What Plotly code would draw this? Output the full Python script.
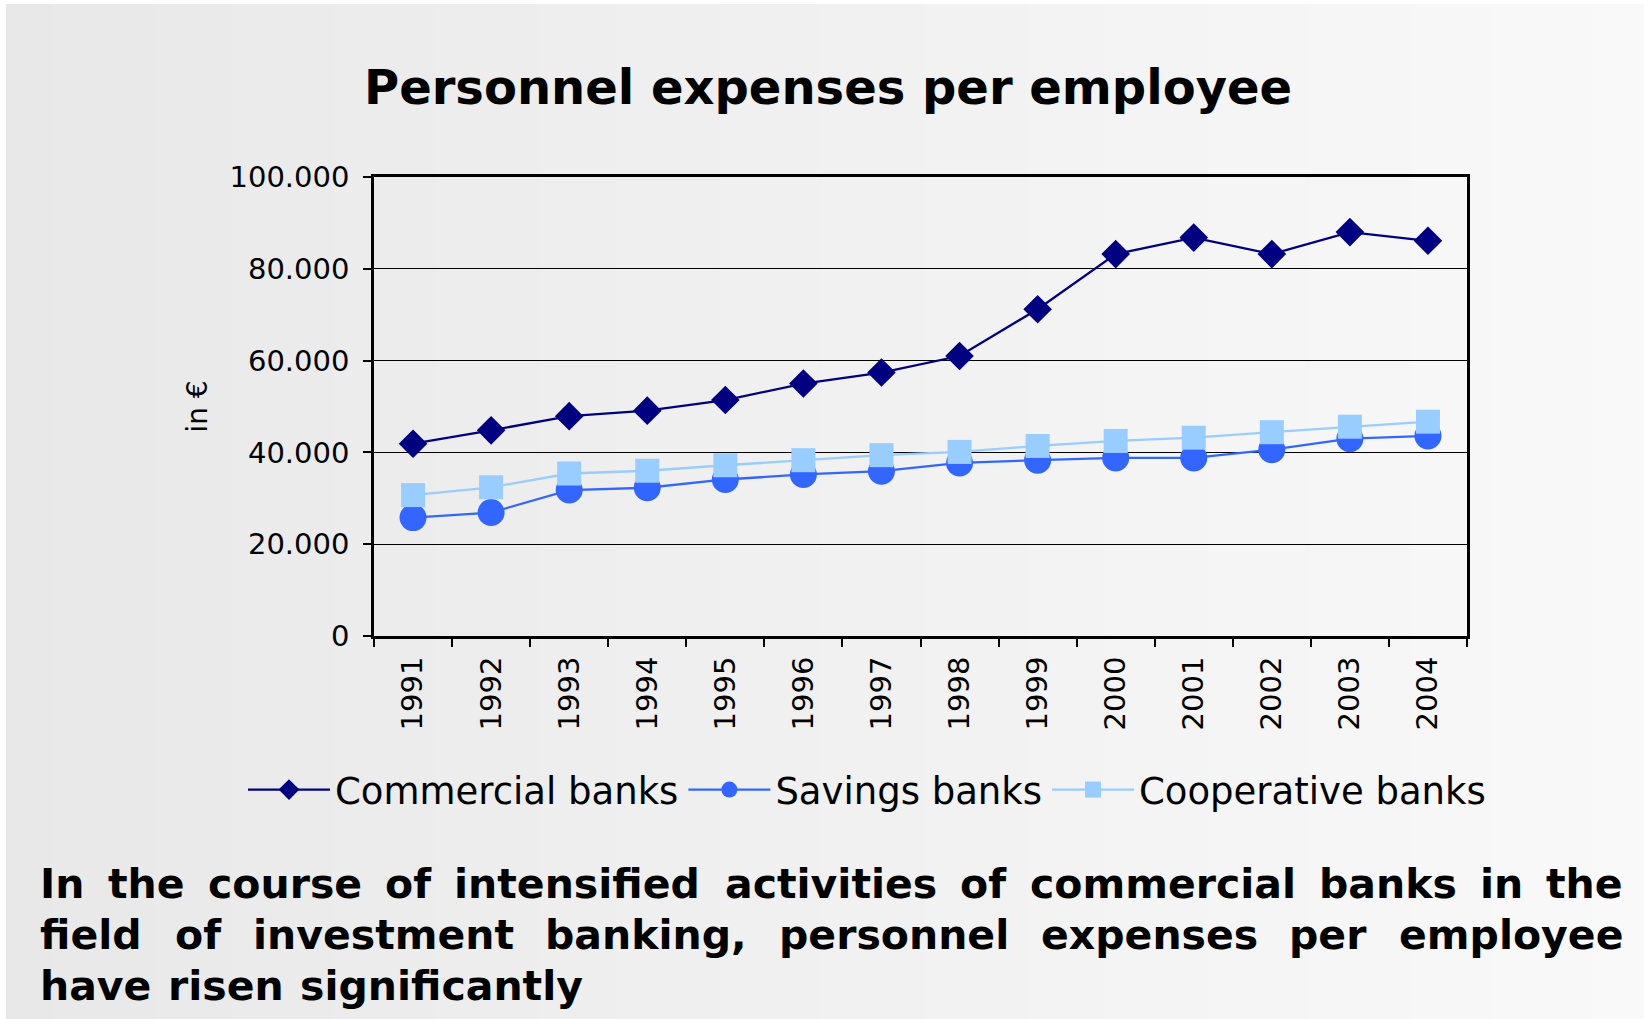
import glob
import os
import struct

import plotly.graph_objects as go

# ---- data -------------------------------------------------------------
years = ["1991", "1992", "1993", "1994", "1995", "1996", "1997",
         "1998", "1999", "2000", "2001", "2002", "2003", "2004"]
commercial = [41900, 44800, 47900, 49100, 51400, 55000, 57400,
              61000, 71200, 83200, 86800, 83200, 88000, 86100]
savings = [25800, 26900, 31800, 32300, 34100, 35200, 35900,
           37700, 38300, 38800, 38800, 40600, 43000, 43600]
cooperative = [30700, 32400, 35400, 36000, 37200, 38300, 39400,
               40100, 41400, 42500, 43200, 44400, 45600, 46700]

series_names = ["Commercial banks", "Savings banks", "Cooperative banks"]
title_text = "Personnel expenses per employee"
y_title = "in €"
note_lines = [
    "In the course of intensified activities of commercial banks in the",
    "field of investment banking, personnel expenses per employee",
    "have risen significantly",
]

# ---- page geometry (pixels) --------------------------------------------
W, H = 1644, 1019
PL, PR, PT, PB = 374, 1467, 177, 636
PW, PH = PR - PL, PB - PT
FONT = "DejaVu Sans"


def px_x(px):
    return (px - PL) / PW


def px_y(py):
    return (PB - py) / PH


# ---- glyph advance widths for justifying the note text --------------------
FALLBACK_ADV = {" ": 0.348, "a": 0.675, "b": 0.716, "c": 0.593, "d": 0.716,
                "e": 0.678, "f": 0.435, "g": 0.716, "h": 0.712, "i": 0.343,
                "k": 0.665, "l": 0.343, "m": 1.042, "n": 0.712, "o": 0.687,
                "p": 0.716, "r": 0.493, "s": 0.595, "t": 0.478, "u": 0.712,
                "v": 0.652, "x": 0.663, "y": 0.652, "I": 0.372, ",": 0.380}


def load_advance_widths(path):
    """Read per-character advance widths (in em) from a TrueType file."""
    data = open(path, "rb").read()
    num_tables = struct.unpack(">H", data[4:6])[0]
    tables = {}
    for i in range(num_tables):
        rec = data[12 + 16 * i: 28 + 16 * i]
        tables[rec[:4].decode("latin-1")] = struct.unpack(">I", rec[8:12])[0]
    upm = struct.unpack(">H", data[tables["head"] + 18: tables["head"] + 20])[0]
    nhm = struct.unpack(">H", data[tables["hhea"] + 34: tables["hhea"] + 36])[0]
    hm = tables["hmtx"]
    advs = [struct.unpack(">H", data[hm + 4 * i: hm + 4 * i + 2])[0] for i in range(nhm)]
    cm = tables["cmap"]
    n_sub = struct.unpack(">H", data[cm + 2: cm + 4])[0]
    sub = None
    for i in range(n_sub):
        pid, eid, off = struct.unpack(">HHI", data[cm + 4 + 8 * i: cm + 12 + 8 * i])
        if pid == 3 and eid == 1:
            sub = cm + off
    if sub is None or struct.unpack(">H", data[sub:sub + 2])[0] != 4:
        raise ValueError("no format-4 cmap")
    segx2 = struct.unpack(">H", data[sub + 6: sub + 8])[0]
    seg = segx2 // 2
    ends = struct.unpack(">%dH" % seg, data[sub + 14: sub + 14 + segx2])
    so = sub + 16 + segx2
    starts = struct.unpack(">%dH" % seg, data[so: so + segx2])
    do = so + segx2
    deltas = struct.unpack(">%dh" % seg, data[do: do + segx2])
    ro = do + segx2
    roffs = struct.unpack(">%dH" % seg, data[ro: ro + segx2])

    def glyph(cp):
        for k in range(seg):
            if starts[k] <= cp <= ends[k]:
                if roffs[k] == 0:
                    return (cp + deltas[k]) & 0xFFFF
                addr = ro + 2 * k + roffs[k] + 2 * (cp - starts[k])
                g = struct.unpack(">H", data[addr: addr + 2])[0]
                return (g + deltas[k]) & 0xFFFF if g else 0
        return 0

    def width(ch):
        g = glyph(ord(ch))
        return advs[min(g, nhm - 1)] / upm

    return width


def bold_width_fn():
    patterns = ["/usr/share/fonts/**/DejaVuSans-Bold.ttf",
                "/usr/local/share/fonts/**/DejaVuSans-Bold.ttf",
                os.path.expanduser("~/.fonts/**/DejaVuSans-Bold.ttf")]
    for pat in patterns:
        for path in glob.glob(pat, recursive=True):
            try:
                return load_advance_widths(path)
            except Exception:
                pass
    return lambda ch: FALLBACK_ADV.get(ch, 0.6)


char_w = bold_width_fn()

fig = go.Figure()

styles = [
    dict(color="#000080", symbol="diamond", size=22),
    dict(color="#3366FF", symbol="circle", size=27),
    dict(color="#99CCFF", symbol="square", size=24),
]
for name, vals, st in zip(series_names, [commercial, savings, cooperative], styles):
    fig.add_trace(go.Scatter(
        x=years, y=vals, name=name, mode="lines+markers",
        line=dict(color=st["color"], width=2.3),
        marker=dict(color=st["color"], symbol=st["symbol"], size=st["size"],
                    line=dict(width=0)),
    ))

# ---- background: soft left-to-right grey gradient ------------------------
shapes = []
n = 64
c0, c1 = 232, 249
for i in range(n):
    x0 = W * i / n
    x1 = W * (i + 1) / n + 1
    c = round(c0 + (c1 - c0) * (i + 0.5) / n)
    shapes.append(dict(type="rect", xref="paper", yref="paper", layer="below",
                       x0=px_x(x0), x1=px_x(x1), y0=px_y(H), y1=px_y(0),
                       line=dict(width=0), fillcolor=f"rgb({c},{c},{c})"))
# thin white frame at top and left edge
shapes.append(dict(type="rect", xref="paper", yref="paper", layer="below",
                   x0=px_x(0), x1=px_x(W), y0=px_y(4), y1=px_y(0),
                   line=dict(width=0), fillcolor="white"))
shapes.append(dict(type="rect", xref="paper", yref="paper", layer="below",
                   x0=px_x(0), x1=px_x(6), y0=px_y(H), y1=px_y(0),
                   line=dict(width=0), fillcolor="white"))

# ---- justified note text, word by word ---------------------------------
note_size = 41
note_left, note_right = 40, 1623
note_centers = [884, 935, 986]
annotations = []
for li, (line, cy) in enumerate(zip(note_lines, note_centers)):
    words = line.split(" ")
    widths = [sum(char_w(ch) for ch in w) * note_size for w in words]
    if li < len(note_lines) - 1:
        gap = (note_right - note_left - sum(widths)) / (len(words) - 1)
    else:
        gap = char_w(" ") * note_size * 1.15
    x = note_left
    for w, wd in zip(words, widths):
        annotations.append(dict(
            text=w, x=px_x(x), y=px_y(cy), xref="paper", yref="paper",
            xanchor="left", yanchor="middle", showarrow=False,
            borderpad=0, borderwidth=0,
            font=dict(family=FONT, size=note_size, color="black", weight="bold")))
        x += wd + gap

fig.update_layout(
    width=W, height=H,
    margin=dict(l=PL, r=W - PR, t=PT, b=H - PB, autoexpand=False),
    paper_bgcolor="#f0f0f0",
    plot_bgcolor="rgba(0,0,0,0)",
    separators=",.",
    font=dict(family=FONT, color="black"),
    title=dict(text=title_text, x=828 / W, xanchor="center",
               y=1 - 87 / H, yanchor="middle", xref="container", yref="container",
               font=dict(family=FONT, size=48, color="black", weight="bold")),
    showlegend=True,
    legend=dict(orientation="h", xref="paper", yref="paper",
                x=px_x(243), xanchor="left", y=px_y(790), yanchor="middle",
                bgcolor="rgba(0,0,0,0)",
                font=dict(family=FONT, size=37, color="black"),
                itemwidth=82, traceorder="normal"),
    shapes=shapes,
    annotations=annotations,
    xaxis=dict(type="category", range=[-0.5, len(years) - 0.5],
               showgrid=False, tickson="boundaries",
               ticks="outside", ticklen=8, tickcolor="black", tickwidth=1.5,
               tickangle=-90, ticklabelstandoff=6,
               tickfont=dict(size=29, color="black"),
               showline=True, linecolor="black", linewidth=3, mirror=True,
               zeroline=False, automargin=False),
    yaxis=dict(range=[0, 100000], dtick=20000, tickformat=",d",
               showgrid=True, gridcolor="black", gridwidth=1,
               ticks="outside", ticklen=8, tickcolor="black", tickwidth=1.5,
               ticklabelstandoff=8,
               tickfont=dict(size=29, color="black"),
               showline=True, linecolor="black", linewidth=2.5, mirror=True,
               zeroline=False, automargin=False,
               title=dict(text=y_title, standoff=14,
                          font=dict(size=28, color="black"))),
)

fig.write_html("out.html")
